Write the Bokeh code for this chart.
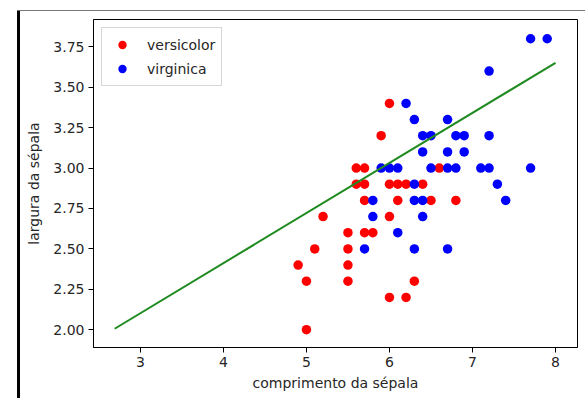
from bokeh.plotting import figure
from bokeh.models import FixedTicker, Legend, LegendItem, Range1d, InlineStyleSheet
from bokeh.embed import file_html
from bokeh.resources import INLINE

# versicolor (sepal length, sepal width)
versicolor_x = [6.0, 5.9, 5.6, 5.7, 6.6, 5.6, 5.7, 6.0, 6.1, 6.2, 6.4,
                5.7, 6.1, 6.5, 6.8, 5.2, 6.0, 5.5, 5.7, 5.8, 5.1, 5.5,
                4.9, 5.5, 5.0, 5.5, 6.3, 6.0, 6.2, 5.0]
versicolor_y = [3.4, 3.2, 3.0, 3.0, 3.0, 2.9, 2.9, 2.9, 2.9, 2.9, 2.9,
                2.8, 2.8, 2.8, 2.8, 2.7, 2.7, 2.6, 2.6, 2.6, 2.5, 2.5,
                2.4, 2.4, 2.3, 2.3, 2.3, 2.2, 2.2, 2.0]

# virginica (sepal length, sepal width)
virginica_x = [7.7, 7.9, 7.2, 6.2, 6.3, 6.7, 6.4, 6.5, 6.8, 6.9, 7.2,
               6.4, 6.7, 6.9, 5.9, 6.0, 6.1, 6.5, 6.7, 6.8, 7.1, 7.2,
               7.7, 6.3, 7.3, 5.8, 6.3, 6.4, 7.4, 5.8, 6.4, 6.1, 5.7,
               6.3, 6.7]
virginica_y = [3.8, 3.8, 3.6, 3.4, 3.3, 3.3, 3.2, 3.2, 3.2, 3.2, 3.2,
               3.1, 3.1, 3.1, 3.0, 3.0, 3.0, 3.0, 3.0, 3.0, 3.0, 3.0,
               3.0, 2.9, 2.9, 2.8, 2.8, 2.8, 2.8, 2.7, 2.7, 2.6, 2.5,
               2.5, 2.5]

# regression line endpoints
line_x = [2.69, 8.0]
line_y = [2.006, 3.651]

x_ticks = [3, 4, 5, 6, 7, 8]
y_ticks = [2.00, 2.25, 2.50, 2.75, 3.00, 3.25, 3.50, 3.75]
y_tick_labels = ["2.00", "2.25", "2.50", "2.75", "3.00", "3.25", "3.50", "3.75"]

FONT = "DejaVu Sans"
TXT = "#262626"
FS = "14px"

# notebook output-cell edges drawn around the chart
cell_edges = InlineStyleSheet(css="""
:host::before {
  content: ""; position: absolute; left: 17px; top: 10px;
  width: 2.5px; height: 400px; background: black; z-index: 10;
}
:host::after {
  content: ""; position: absolute; left: 17px; top: 9.5px;
  width: 580px; height: 1px; background: #777777; z-index: 10;
}
""")

p = figure(
    frame_width=484, frame_height=328,
    min_border_left=93, min_border_right=7, min_border_top=19, min_border_bottom=48,
    x_range=Range1d(2.435, 8.265), y_range=Range1d(1.89, 3.919),
    output_backend="svg", toolbar_location=None,
    stylesheets=[cell_edges],
)
p.background_fill_color = "white"
p.border_fill_color = "white"
p.outline_line_color = "black"
p.outline_line_width = 1
p.xgrid.visible = False
p.ygrid.visible = False

r_vers = p.scatter(versicolor_x, versicolor_y, size=9.5, fill_color="#ff0000", line_color=None)
r_virg = p.scatter(virginica_x, virginica_y, size=9.5, fill_color="#0000ff", line_color=None)
p.line(line_x, line_y, line_color="#1f8a1f", line_width=2)

p.xaxis.ticker = FixedTicker(ticks=x_ticks)
p.yaxis.ticker = FixedTicker(ticks=y_ticks)
p.yaxis.major_label_overrides = {t: l for t, l in zip(y_ticks, y_tick_labels)}
p.xaxis.axis_label = "comprimento da sépala"
p.yaxis.axis_label = "largura da sépala"
for ax in (p.xaxis[0], p.yaxis[0]):
    ax.axis_line_color = "black"
    ax.major_tick_line_color = "black"
    ax.major_tick_out = 5
    ax.major_tick_in = 0
    ax.minor_tick_line_color = None
    ax.major_label_text_font = FONT
    ax.major_label_text_font_size = FS
    ax.major_label_text_color = TXT
    ax.axis_label_text_font = FONT
    ax.axis_label_text_font_size = FS
    ax.axis_label_text_font_style = "normal"
    ax.axis_label_text_color = TXT
    ax.major_label_standoff = 4
p.xaxis[0].axis_label_standoff = 5
p.yaxis[0].axis_label_standoff = 8

legend = Legend(items=[LegendItem(label="versicolor", renderers=[r_vers]),
                       LegendItem(label="virginica", renderers=[r_virg])],
                location="top_left")
legend.margin = 8
legend.padding = 6
legend.spacing = 3
legend.label_text_font = FONT
legend.label_text_font_size = FS
legend.label_text_color = TXT
legend.label_height = 21
legend.glyph_height = 21
legend.glyph_width = 28
legend.label_standoff = 11
legend.border_line_color = "#cccccc"
legend.border_line_alpha = 0.8
legend.background_fill_alpha = 0.8
p.add_layout(legend)

open("out.html", "w").write(file_html(p, INLINE))
